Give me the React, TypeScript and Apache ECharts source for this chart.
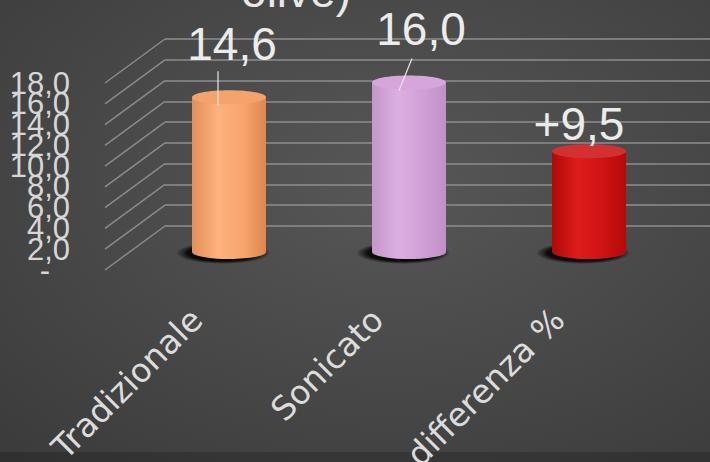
import React, { useEffect, useRef } from "react";
import * as echarts from "echarts";

// ---- data ----
const categories = ["Tradizionale", "Sonicato", "differenza %"];
const values = [14.6, 16.0, 9.5];
const signedIndex = 2; // "differenza %" shown with a plus sign
const yTicks = [0, 2, 4, 6, 8, 10, 12, 14, 16, 18];
const yMax = 18;
const yStep = 2;
const titleTail = "olive)";

// ---- styling ----
const FONT = "'Liberation Sans', Arial, sans-serif";
const CAT_FONT = "'DejaVu Sans', 'Liberation Sans', sans-serif";
const palette = [
  { side: ["#e38f58", "#fdb17c", "#f7a56d", "#dc874f"], top: "#f4a36d" },
  { side: ["#c496ca", "#dcafe2", "#cf9fd5", "#bf90c5"], top: "#d7a5dc" },
  { side: ["#b00808", "#de1d1d", "#cf1212", "#b50a0a"], top: "#d33131" },
];
const labelShift = [
  { dx: 3, dy: -53 },
  { dx: 12, dy: -53 },
  { dx: -10, dy: -27 },
];
const leaders: (null | [number, number, number, number])[] = [
  [-11, -26, -11, 8],
  [3, -24, -10, 8],
  null,
];
const DEPTH_DX = 60;
const DEPTH_DY = 44;
const TICK_LABEL_GAP = 35;

const fmt = (v: number) => v.toFixed(1).replace(".", ",");

export default function App() {
  const ref = useRef<HTMLDivElement>(null);

  useEffect(() => {
    document.body.style.margin = "0";
    if (!ref.current) return;
    const chart = echarts.init(ref.current, undefined, { renderer: "svg" });

    const option: any = {
      animation: false,
      backgroundColor: new echarts.graphic.RadialGradient(0.55, 0.4, 0.8, [
        { offset: 0, color: "#575757" },
        { offset: 1, color: "#3b3b3b" },
      ]),
      graphic: [
        {
          type: "rect",
          shape: { x: 0, y: 452, width: 710, height: 10 },
          style: { fill: "rgba(0,0,0,0.18)" },
          silent: true,
        },
        {
          type: "text",
          x: 351,
          y: 14,
          style: {
            text: titleTail,
            fill: "#e8e8e8",
            fontSize: 46,
            fontFamily: FONT,
            align: "right",
            verticalAlign: "bottom",
          },
          silent: true,
        },
      ],
      grid: [
        { left: 105, top: 83, width: 1, height: 187, outerBoundsMode: "none" },
        { left: 165, top: 39, right: 0, height: 187, outerBoundsMode: "none" },
        { left: 139, top: 61.2, width: 540, height: 190.8, outerBoundsMode: "none" },
        { left: 106, top: 0, width: 543, height: 300, outerBoundsMode: "none" },
      ],
      xAxis: [
        { gridIndex: 0, type: "value", show: false, min: 0, max: 1 },
        { gridIndex: 1, type: "value", show: false, min: 0, max: 1 },
        { gridIndex: 2, type: "category", data: categories, show: false },
        {
          gridIndex: 3,
          type: "category",
          data: categories,
          axisLine: { show: false },
          axisTick: { show: false },
          axisLabel: {
            rotate: 45,
            margin: 14,
            fontSize: 33,
            fontFamily: CAT_FONT,
            color: "#dcdcdc",
            interval: 0,
          },
        },
      ],
      yAxis: [
        {
          gridIndex: 0,
          type: "value",
          min: 0,
          max: yMax,
          interval: yStep,
          axisLine: { show: false },
          axisTick: { show: false },
          splitLine: { show: false },
          axisLabel: { show: false },
        },
        {
          gridIndex: 1,
          type: "value",
          min: 0,
          max: yMax,
          interval: yStep,
          axisLine: { show: false },
          axisTick: { show: false },
          axisLabel: { show: false },
          splitLine: { show: true, lineStyle: { color: "#8e8e8e", width: 1.5 } },
        },
        { gridIndex: 2, type: "value", min: 0, max: yMax, show: false },
        { gridIndex: 3, type: "value", show: false },
      ],
      series: [
        {
          // front axis tick labels (overlapping, as in the original)
          type: "custom",
          xAxisIndex: 0,
          yAxisIndex: 0,
          silent: true,
          data: yTicks.map((v) => [0, v]),
          renderItem: (_p: any, api: any) => {
            const v = api.value(1);
            const p = api.coord([0, v]);
            return {
              type: "text",
              x: p[0] - TICK_LABEL_GAP - (v === 0 ? 20 : 0),
              y: p[1],
              style: {
                text: v === 0 ? "-" : fmt(v),
                fill: "#d6d6d6",
                fontSize: 31,
                fontFamily: FONT,
                align: "right",
                verticalAlign: "middle",
              },
            };
          },
        },
        {
          type: "custom",
          xAxisIndex: 1,
          yAxisIndex: 1,
          silent: true,
          data: yTicks.map((v) => [0, v]),
          renderItem: (_p: any, api: any) => {
            const p = api.coord([0, api.value(1)]);
            return {
              type: "line",
              shape: { x1: p[0], y1: p[1], x2: p[0] - DEPTH_DX, y2: p[1] + DEPTH_DY },
              style: { stroke: "#8a8a8a", lineWidth: 1.5 },
            };
          },
        },
        {
          type: "custom",
          xAxisIndex: 2,
          yAxisIndex: 2,
          silent: true,
          data: values.map((v, i) => [i, v]),
          renderItem: (params: any, api: any) => {
            const i = api.value(0);
            const v = api.value(1);
            const top = api.coord([i, v]);
            const base = api.coord([i, 0]);
            const cx = top[0];
            const rx = 37;
            const ry = 7;
            const pal = palette[i];
            const sideFill = new echarts.graphic.LinearGradient(0, 0, 1, 0, [
              { offset: 0, color: pal.side[0] },
              { offset: 0.35, color: pal.side[1] },
              { offset: 0.7, color: pal.side[2] },
              { offset: 1, color: pal.side[3] },
            ]);
            const shadowFill = new echarts.graphic.RadialGradient(0.5, 0.5, 0.5, [
              { offset: 0, color: "rgba(0,0,0,0.95)" },
              { offset: 0.75, color: "rgba(0,0,0,0.85)" },
              { offset: 1, color: "rgba(0,0,0,0)" },
            ]);
            const label = (i === signedIndex ? "+" : "") + fmt(v);
            const children: any[] = [
              {
                type: "ellipse",
                shape: { cx: cx - 6, cy: base[1] + 1, rx: rx + 10, ry: ry + 4 },
                style: { fill: shadowFill },
              },
              {
                type: "rect",
                shape: { x: cx - rx, y: top[1], width: rx * 2, height: base[1] - top[1] },
                style: { fill: sideFill },
              },
              {
                type: "ellipse",
                shape: { cx, cy: base[1], rx, ry },
                style: { fill: sideFill },
              },
              {
                type: "ellipse",
                shape: { cx, cy: top[1], rx, ry },
                style: { fill: pal.top },
              },
            ];
            const ld = leaders[i];
            if (ld) {
              children.push({
                type: "line",
                shape: { x1: cx + ld[0], y1: top[1] + ld[1], x2: cx + ld[2], y2: top[1] + ld[3] },
                style: { stroke: "#e6e6e6", lineWidth: 1.2 },
              });
            }
            children.push({
              type: "text",
              x: cx + labelShift[i].dx,
              y: top[1] + labelShift[i].dy,
              style: {
                text: label,
                fill: "#ececec",
                fontSize: 46,
                fontFamily: FONT,
                align: "center",
                verticalAlign: "middle",
              },
            });
            return { type: "group", children };
          },
        },
      ],
    };

    chart.setOption(option);
    return () => chart.dispose();
  }, []);

  return <div ref={ref} style={{ width: 710, height: 462 }} />;
}
